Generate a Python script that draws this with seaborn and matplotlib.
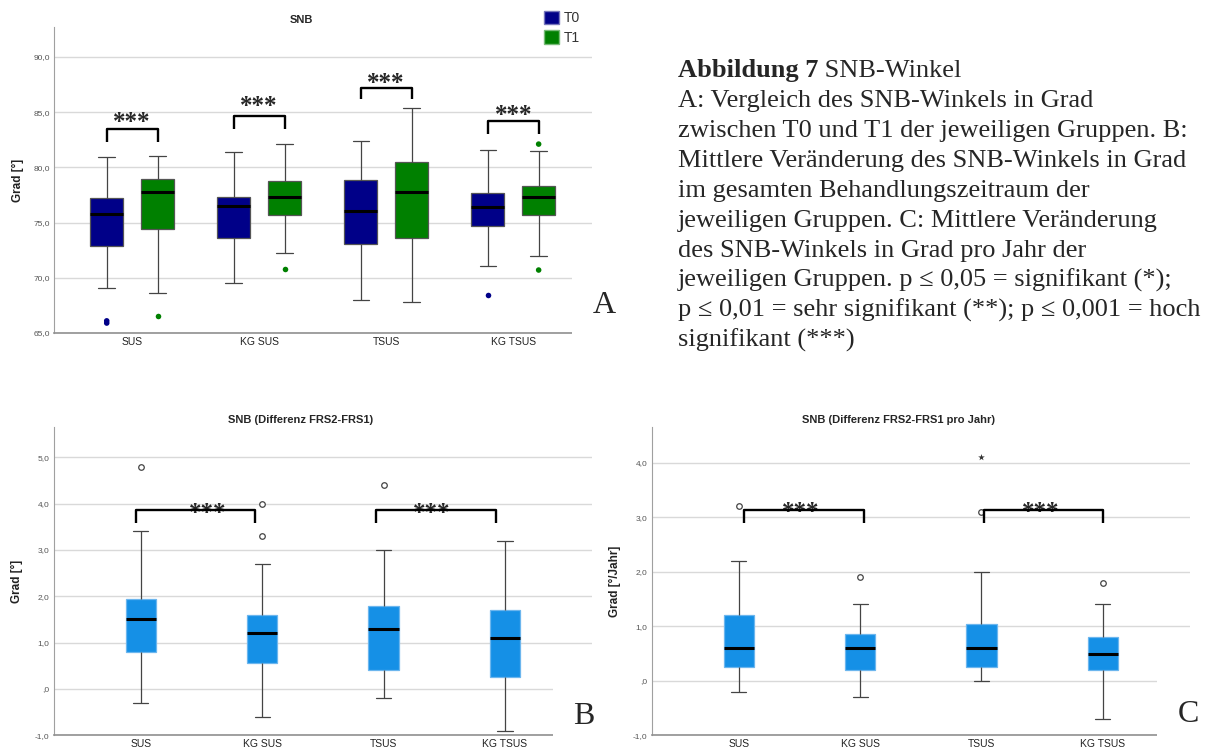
import pandas as pd
import seaborn as sns
import matplotlib.pyplot as plt
from matplotlib.patches import Patch, Rectangle
from matplotlib.ticker import FuncFormatter, MultipleLocator

GROUPS = ["SUS", "KG SUS", "TSUS", "KG TSUS"]
TIMES = ["T0", "T1"]

# ---- A: SNB T0 / T1 (lower whisker, Q1, median, Q3, upper whisker) ----
snb_t0_low = [69.1, 69.5, 68.0, 71.1]
snb_t0_q1 = [72.9, 73.6, 73.1, 74.65]
snb_t0_med = [75.8, 76.5, 76.0, 76.45]
snb_t0_q3 = [77.2, 77.3, 78.85, 77.65]
snb_t0_high = [80.9, 81.4, 82.4, 81.6]

snb_t1_low = [68.6, 72.2, 67.8, 72.0]
snb_t1_q1 = [74.45, 75.65, 73.6, 75.7]
snb_t1_med = [77.8, 77.3, 77.8, 77.35]
snb_t1_q3 = [78.9, 78.75, 80.45, 78.3]
snb_t1_high = [81.0, 82.1, 85.4, 81.5]

snb_out_group = ["SUS", "SUS", "SUS", "KG SUS", "KG TSUS", "KG TSUS", "KG TSUS"]
snb_out_time = ["T0", "T0", "T1", "T1", "T0", "T1", "T1"]
snb_out_value = [66.1, 65.9, 66.5, 70.8, 68.4, 82.1, 70.7]

# ---- B: Differenz FRS2-FRS1 ----
diff_low = [-0.3, -0.6, -0.2, -0.9]
diff_q1 = [0.8, 0.55, 0.4, 0.25]
diff_med = [1.5, 1.2, 1.3, 1.1]
diff_q3 = [1.95, 1.6, 1.8, 1.7]
diff_high = [3.4, 2.7, 3.0, 3.2]
diff_out_group = ["SUS", "KG SUS", "KG SUS", "TSUS"]
diff_out_value = [4.8, 4.0, 3.3, 4.4]

# ---- C: Differenz FRS2-FRS1 pro Jahr ----
year_low = [-0.2, -0.3, 0.0, -0.7]
year_q1 = [0.25, 0.2, 0.25, 0.2]
year_med = [0.6, 0.6, 0.6, 0.5]
year_q3 = [1.2, 0.85, 1.05, 0.8]
year_high = [2.2, 1.4, 2.0, 1.4]
year_out_group = ["SUS", "KG SUS", "TSUS", "KG TSUS"]
year_out_value = [3.2, 1.9, 3.1, 1.8]
year_ext_group = ["TSUS"]
year_ext_value = [4.1]

CAPTION = [
    "A: Vergleich des SNB-Winkels in Grad",
    "zwischen T0 und T1 der jeweiligen Gruppen. B:",
    "Mittlere Veränderung des SNB-Winkels in Grad",
    "im gesamten Behandlungszeitraum der",
    "jeweiligen Gruppen. C: Mittlere Veränderung",
    "des SNB-Winkels in Grad pro Jahr der",
    "jeweiligen Gruppen. p ≤ 0,05 = signifikant (*);",
    "p ≤ 0,01 = sehr signifikant (**); p ≤ 0,001 = hoch",
    "signifikant (***)",
]

NAVY = "#000088"
GREEN = "#008000"
BLUE = "#1590e6"
SERIF = ["Liberation Serif", "DejaVu Serif"]


def five_num_frame(low, q1, med, q3, high, **extra):
    # 5 Werte pro Gruppe -> Quartile genau auf q1/med/q3, Whisker auf min/max
    rows = []
    for i, g in enumerate(GROUPS):
        for v in (low[i], q1[i], med[i], q3[i], high[i]):
            rows.append({"Gruppe": g, "Wert": v, **extra})
    return pd.DataFrame(rows)


def comma(v, pos):
    s = f"{v:.1f}".replace(".", ",")
    return ",0" if s in ("0,0", "-0,0") else s


sns.set_style("white")
plt.rcParams["font.family"] = ["Liberation Sans", "DejaVu Sans"]

W, H = 1208, 751
fig = plt.figure(figsize=(W / 100, H / 100), dpi=100)


def px_axes(left, top, right, bottom):
    return fig.add_axes([left / W, 1 - bottom / H, (right - left) / W, (bottom - top) / H])


def style_axes(ax, xlim, ylim, title, ylabel):
    ax.set_xlim(*xlim)
    ax.set_ylim(*ylim)
    ax.yaxis.set_major_locator(MultipleLocator(1 if ylim[1] < 10 else 5))
    ax.yaxis.set_major_formatter(FuncFormatter(comma))
    ax.grid(axis="y", color="#d9d9d9", lw=1.0)
    ax.grid(axis="x", visible=False)
    ax.set_axisbelow(True)
    for s in ["top", "right"]:
        ax.spines[s].set_visible(False)
    ax.spines["left"].set_color("#a0a0a0")
    ax.spines["left"].set_linewidth(0.8)
    ax.spines["bottom"].set_color("#909090")
    ax.spines["bottom"].set_linewidth(1.2)
    ax.tick_params(axis="y", length=0, pad=3, labelsize=6, labelcolor="#555555")
    ax.tick_params(axis="x", length=0, pad=3, labelsize=7.5, labelcolor="#222222")
    ax.set_xlabel("")
    ax.set_ylabel(ylabel, fontsize=8.5, fontweight="bold", color="#222222")
    ax.yaxis.set_label_coords(-0.056, 0.5)
    ax.set_title(title, fontsize=8, fontweight="bold", x=0.459, pad=3)


def bracket(ax, x0, x1, y_top, y_leg, star_x, star_y):
    ax.plot([x0, x0, x1, x1], [y_leg, y_top, y_top, y_leg], color="black", lw=1.7,
            solid_joinstyle="round", solid_capstyle="butt", zorder=6)
    ax.annotate("***", xy=(star_x, star_y), xytext=(0, -0.48 * 18), textcoords="offset points",
                ha="center", va="baseline", fontsize=18, fontweight="bold", family=SERIF, zorder=5)


box_common = dict(whis=(0, 100), showfliers=False, saturation=1, linewidth=0.9,
                  medianprops=dict(color="black", linewidth=2.2))

# ---- A ----
df_a = pd.concat([
    five_num_frame(snb_t0_low, snb_t0_q1, snb_t0_med, snb_t0_q3, snb_t0_high, Zeit="T0"),
    five_num_frame(snb_t1_low, snb_t1_q1, snb_t1_med, snb_t1_q3, snb_t1_high, Zeit="T1"),
], ignore_index=True)

ax_a = px_axes(54, 27, 592, 333)
sns.boxplot(data=df_a, x="Gruppe", y="Wert", hue="Zeit", order=GROUPS, hue_order=TIMES,
            palette=[NAVY, GREEN], width=0.8, gap=0.35, linecolor="#444444",
            boxprops=dict(edgecolor="#555555"), legend=False, ax=ax_a, **box_common)
sns.stripplot(x=snb_out_group, y=snb_out_value, hue=snb_out_time, order=GROUPS, hue_order=TIMES,
              palette=[NAVY, GREEN], dodge=True, jitter=False, size=4, linewidth=0,
              legend=False, ax=ax_a, zorder=4)
style_axes(ax_a, (-0.615, 3.62), (65, 92.7), "SNB", "Grad [°]")

for i, (top, leg, sy) in enumerate(zip([83.43, 84.64, 87.2, 84.19],
                                       [82.29, 83.49, 86.14, 83.01],
                                       [84.52, 86.02, 88.07, 85.18])):
    bracket(ax_a, i - 0.2, i + 0.2, top, leg, i, sy)

fig.legend(handles=[Patch(facecolor=NAVY, edgecolor="#7777bb", lw=1),
                    Patch(facecolor=GREEN, edgecolor="#77bb77", lw=1)],
           labels=TIMES, loc="upper left", bbox_to_anchor=(544 / W, 1 - 11 / H),
           frameon=False, fontsize=10, handlelength=1.1, handleheight=1.1,
           handletextpad=0.3, labelspacing=0.35, borderpad=0, borderaxespad=0,
           labelcolor="#333333")

# ---- B ----
df_b = five_num_frame(diff_low, diff_q1, diff_med, diff_q3, diff_high)
ax_b = px_axes(53.6, 426.7, 592.4, 735.3)
sns.boxplot(data=df_b, x="Gruppe", y="Wert", order=GROUPS, color=BLUE, width=0.25,
            linecolor="#444444", boxprops=dict(edgecolor="#6cb6ee"), ax=ax_b, **box_common)
sns.stripplot(x=diff_out_group, y=diff_out_value, order=GROUPS, color="white",
              edgecolor="#444444", linewidth=0.9, size=4, jitter=False, ax=ax_b, zorder=4)
style_axes(ax_b, (-0.718, 3.72), (-1, 5.66), "SNB (Differenz FRS2-FRS1)", "Grad [°]")
bracket(ax_b, -0.038, 0.945, 3.862, 3.574, 0.553, 3.916)
bracket(ax_b, 1.934, 2.923, 3.862, 3.574, 2.397, 3.916)

# ---- C ----
df_c = five_num_frame(year_low, year_q1, year_med, year_q3, year_high)
ax_c = px_axes(651.6, 426.7, 1190.2, 735.3)
sns.boxplot(data=df_c, x="Gruppe", y="Wert", order=GROUPS, color=BLUE, width=0.25,
            linecolor="#444444", boxprops=dict(edgecolor="#6cb6ee"), ax=ax_c, **box_common)
sns.stripplot(x=year_out_group, y=year_out_value, order=GROUPS, color="white",
              edgecolor="#444444", linewidth=0.9, size=4, jitter=False, ax=ax_c, zorder=4)
sns.stripplot(x=year_ext_group, y=year_ext_value, order=GROUPS, color="#333333",
              marker="*", size=5, linewidth=0, jitter=False, ax=ax_c, zorder=4)
style_axes(ax_c, (-0.718, 3.72), (-1, 4.66), "SNB (Differenz FRS2-FRS1 pro Jahr)", "Grad [°/Jahr]")
bracket(ax_c, 0.045, 1.029, 3.133, 2.889, 0.507, 3.179)
bracket(ax_c, 2.019, 3.003, 3.133, 2.889, 2.487, 3.179)

# ---- Panel-Buchstaben (weiße Textbox wie im Word-Dokument) ----
for (x0, y0, x1, y1) in [(571.5, 245, 625, 340), (552.5, 655, 605, 747), (1156.5, 655, 1208, 747)]:
    fig.add_artist(Rectangle((x0 / W, 1 - y1 / H), (x1 - x0) / W, (y1 - y0) / H,
                             transform=fig.transFigure, facecolor="white", edgecolor="none", zorder=10))
for letter, x, base in [("A", 593, 313), ("B", 573, 724), ("C", 1178, 722)]:
    fig.text(x / W, 1 - base / H, letter, fontsize=23, family=SERIF, ha="left",
             va="baseline", zorder=11)

# ---- Bildunterschrift ----
cap_x = 677.5 / W
t = fig.text(cap_x, 1 - 76.7 / H, "Abbildung 7", fontsize=19, fontweight="bold",
             family=SERIF, ha="left", va="baseline")
plt.annotate(" SNB-Winkel", xy=(1, 0), xycoords=t, ha="left", va="bottom",
             fontsize=19, family=SERIF, annotation_clip=False)
for k, line in enumerate(CAPTION, start=1):
    fig.text(cap_x, 1 - (76.7 + 30 * k) / H, line, fontsize=19, family=SERIF,
             ha="left", va="baseline")

fig.savefig("out.png", dpi=100)
